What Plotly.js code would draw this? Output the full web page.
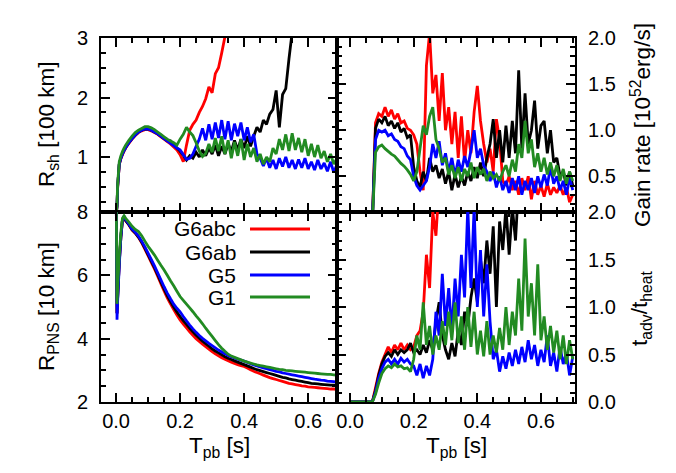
<!DOCTYPE html>
<html>
<head>
<meta charset="utf-8">
<script src="https://cdn.plot.ly/plotly-3.0.1.min.js"></script>
<style>
  html, body { margin: 0; padding: 0; background: #fff; }
  #chart { width: 676px; height: 473px; }
</style>
</head>
<body>
<div id="chart"></div>
<script>
// Post-bounce time grid [s]
const tpb = [
  0.000, 0.003, 0.005, 0.010, 0.015, 0.020, 0.025, 0.030,
  0.04, 0.05, 0.06, 0.07, 0.08, 0.09, 0.10, 0.11, 0.12, 0.13,
  0.14, 0.15, 0.16, 0.17, 0.18, 0.19, 0.20, 0.21, 0.22, 0.23,
  0.24, 0.25, 0.26, 0.27, 0.28, 0.29, 0.30, 0.31, 0.32, 0.33,
  0.34, 0.35, 0.36, 0.37, 0.38, 0.39, 0.40, 0.41, 0.42, 0.43,
  0.44, 0.45, 0.46, 0.47, 0.48, 0.49, 0.50, 0.51, 0.52, 0.53,
  0.54, 0.55, 0.56, 0.57, 0.58, 0.59, 0.60, 0.61, 0.62, 0.63,
  0.64, 0.65, 0.66, 0.67, 0.68, 0.69, 0.70
];

const models = ["G6abc", "G6ab", "G5", "G1"];
const colors = ["#ff0000", "#000000", "#0000ff", "#228b22"];

// ── Shock radius [100 km] ──────────────────────────────────────────────────────
const rshG6abc = [
  0.0, 0.18, 0.49, 0.87, 0.97, 1.04, 1.10, 1.15,
  1.23, 1.30, 1.36, 1.41, 1.44, 1.46, 1.46, 1.44, 1.41, 1.38,
  1.34, 1.30, 1.26, 1.22, 1.17, 1.12, 1.04, 0.92, 1.20, 1.45,
  1.55, 1.62, 1.75, 1.85, 1.98, 2.18, 2.08, 2.40, 2.50, 2.75,
  3.02, 3.40, null, null, null, null, null, null, null, null,
  null, null, null, null, null, null, null, null, null, null,
  null, null, null, null, null, null, null, null, null, null,
  null, null, null, null, null, null, null
];
const rshG6ab = [
  0.0, 0.18, 0.50, 0.88, 0.98, 1.05, 1.11, 1.16,
  1.24, 1.31, 1.37, 1.42, 1.45, 1.47, 1.47, 1.45, 1.42, 1.39,
  1.35, 1.31, 1.27, 1.27, 1.20, 1.15, 1.10, 1.03, 0.95, 1.02,
  0.98, 1.08, 1.00, 1.12, 1.02, 1.15, 1.05, 1.20, 1.02, 1.18,
  1.05, 1.22, 1.10, 1.28, 1.12, 1.30, 1.15, 1.35, 1.18, 1.35,
  1.50, 1.42, 1.62, 1.55, 1.72, 1.80, 2.12, 1.50, 2.05, 2.15,
  2.65, 3.10, 3.50, null, null, null, null, null, null, null,
  null, null, null, null, null, null, null
];
const rshG5 = [
  0.0, 0.18, 0.50, 0.88, 0.98, 1.05, 1.11, 1.16,
  1.24, 1.31, 1.37, 1.42, 1.45, 1.47, 1.47, 1.45, 1.42, 1.39,
  1.35, 1.31, 1.27, 1.23, 1.19, 1.15, 1.12, 1.04, 0.96, 0.98,
  1.05, 1.18, 1.30, 1.48, 1.28, 1.55, 1.30, 1.58, 1.32, 1.62,
  1.30, 1.60, 1.28, 1.56, 1.35, 1.58, 1.28, 1.50, 1.25, 1.38,
  1.05, 0.98, 0.85, 0.98, 0.82, 0.95, 0.80, 0.98, 0.84, 1.00,
  0.82, 0.95, 0.80, 0.96, 0.82, 0.98, 0.80, 0.92, 0.78, 0.95,
  0.80, 0.90, 0.76, 0.92, 0.74, 0.88, 0.78
];
const rshG1 = [
  0.0, 0.20, 0.55, 0.92, 1.02, 1.09, 1.15, 1.20,
  1.28, 1.35, 1.41, 1.45, 1.48, 1.51, 1.51, 1.49, 1.46, 1.42,
  1.38, 1.34, 1.30, 1.27, 1.24, 1.20, 1.30, 1.38, 1.50, 1.42,
  1.36, 1.24, 1.10, 1.01, 1.06, 1.22, 1.08, 1.32, 1.10, 1.35,
  1.05, 1.28, 0.98, 1.25, 1.02, 1.30, 0.95, 1.22, 1.00, 1.15,
  0.92, 1.05, 0.88, 1.00, 0.92, 1.15, 1.05, 1.30, 1.12, 1.38,
  1.10, 1.40, 1.12, 1.32, 1.08, 1.30, 1.02, 1.22, 1.00, 1.20,
  0.98, 1.10, 0.92, 1.05, 0.88, 0.98, 0.90
];

// ── Gain rate [10^52 erg/s] ────────────────────────────────────────────────────
const gainG6abc = [
  0, 0, 0, 0, 0, 0, 0, 0,
  0, 0, 0, 0, 1.08, 1.18, 1.15, 1.25, 1.15, 1.22,
  1.12, 1.18, 1.08, 1.10, 1.02, 1.00, 0.95, 0.85, 0.55, 0.35,
  1.70, 2.05, 1.40, 1.60, 1.10, 1.62, 1.00, 1.25, 0.85, 1.20,
  0.70, 1.15, 0.65, 1.00, 0.75, 1.20, 1.48, 1.10, 0.85, 0.65,
  0.80, 0.55, 1.12, 0.90, 0.45, 0.40, 0.50, 0.35, 0.45, 0.30,
  0.48, 0.35, 0.50, 0.25, 0.45, 0.30, 0.40, 0.28, 0.42, 0.30,
  0.38, 0.32, 0.40, 0.30, 0.38, 0.22, 0.30
];
const gainG6ab = [
  0, 0, 0, 0, 0, 0, 0, 0,
  0, 0, 0, 0, 1.02, 1.12, 1.08, 1.15, 1.05, 1.10,
  1.02, 1.08, 0.98, 1.02, 0.92, 0.95, 0.60, 0.45, 0.38, 0.55,
  0.45, 0.70, 0.55, 0.62, 0.48, 0.58, 0.42, 0.55, 0.35, 0.52,
  0.38, 0.50, 0.40, 0.55, 0.45, 0.60, 0.48, 0.65, 0.50, 0.70,
  0.85, 1.12, 0.70, 1.00, 0.65, 1.05, 0.70, 1.10, 0.75, 1.65,
  0.80, 1.40, 0.85, 1.00, 1.32, 0.80, 1.05, 1.10, 0.75, 1.00,
  0.65, 0.70, 0.50, 0.55, 0.40, 0.55, 0.40
];
const gainG5 = [
  0, 0, 0, 0, 0, 0, 0, 0,
  0, 0, 0, 0, 0.90, 1.00, 0.98, 1.00, 0.94, 0.96,
  0.90, 0.88, 0.82, 0.80, 0.72, 0.68, 0.50, 0.40, 0.35, 0.40,
  0.45, 0.60, 0.85, 0.70, 0.88, 0.62, 0.75, 0.55, 0.70, 0.50,
  0.68, 0.55, 0.72, 0.60, 0.78, 1.00, 0.70, 0.80, 0.62, 0.55,
  0.45, 0.55, 0.38, 0.50, 0.35, 0.45, 0.32, 0.48, 0.35, 0.50,
  0.30, 0.45, 0.35, 0.48, 0.32, 0.50, 0.38, 0.52, 0.40, 0.60,
  0.42, 0.50, 0.35, 0.45, 0.30, 0.48, 0.35
];
const gainG1 = [
  0, 0, 0, 0, 0, 0, 0, 0,
  0, 0, 0, 0, 0.76, 0.82, 0.84, 0.80, 0.77, 0.74,
  0.72, 0.68, 0.64, 0.61, 0.57, 0.52, 0.45, 0.55, 0.80, 1.05,
  0.95, 1.15, 1.25, 0.90, 0.80, 0.65, 0.70, 0.52, 0.62, 0.48,
  0.60, 0.45, 0.58, 0.50, 0.65, 0.48, 0.60, 0.52, 0.58, 0.45,
  0.55, 0.48, 0.52, 0.45, 0.55, 0.62, 0.50, 0.68, 0.55, 0.85,
  0.70, 1.10, 0.75, 0.90, 0.60, 0.75, 0.55, 0.70, 0.52, 0.65,
  0.50, 0.62, 0.45, 0.58, 0.42, 0.55, 0.45
];

// ── PNS radius [10 km] ─────────────────────────────────────────────────────────
const pnsG6abc = [
  9.5, 4.8, 5.3, 6.4, 7.2, 7.75, 7.85, 7.72,
  7.60, 7.43, 7.33, 7.20, 7.03, 6.83, 6.62, 6.41, 6.20, 5.97,
  5.74, 5.51, 5.29, 5.10, 4.92, 4.75, 4.59, 4.46, 4.34, 4.22,
  4.11, 4.00, 3.91, 3.83, 3.75, 3.67, 3.59, 3.52, 3.46, 3.40,
  3.35, 3.30, 3.26, 3.22, 3.18, 3.15, 3.12, 3.07, 3.02, 2.97,
  2.93, 2.89, 2.85, 2.81, 2.77, 2.74, 2.71, 2.68, 2.65, 2.62,
  2.59, 2.57, 2.55, 2.53, 2.51, 2.50, 2.48, 2.47, 2.46, 2.45,
  2.44, 2.43, 2.42, 2.41, 2.41, 2.40, 2.40
];
const pnsG6ab = [
  9.5, 4.8, 5.3, 6.4, 7.2, 7.75, 7.85, 7.73,
  7.60, 7.44, 7.34, 7.21, 7.05, 6.86, 6.65, 6.45, 6.24, 6.02,
  5.79, 5.57, 5.36, 5.17, 5.00, 4.84, 4.70, 4.57, 4.45, 4.33,
  4.22, 4.11, 4.01, 3.92, 3.84, 3.76, 3.68, 3.61, 3.55, 3.49,
  3.43, 3.38, 3.34, 3.30, 3.26, 3.22, 3.18, 3.14, 3.10, 3.06,
  3.02, 2.99, 2.96, 2.93, 2.90, 2.87, 2.84, 2.81, 2.78, 2.76,
  2.73, 2.71, 2.69, 2.67, 2.65, 2.63, 2.61, 2.59, 2.58, 2.57,
  2.56, 2.55, 2.54, 2.53, 2.53, 2.52, 2.52
];
const pnsG5 = [
  9.5, 4.6, 5.2, 6.3, 7.2, 7.75, 7.87, 7.76,
  7.62, 7.46, 7.36, 7.24, 7.08, 6.90, 6.70, 6.50, 6.30, 6.08,
  5.86, 5.64, 5.44, 5.26, 5.09, 4.96, 4.85, 4.70, 4.56, 4.43,
  4.31, 4.20, 4.10, 4.01, 3.93, 3.85, 3.78, 3.71, 3.64, 3.58,
  3.52, 3.47, 3.43, 3.39, 3.35, 3.32, 3.29, 3.25, 3.21, 3.17,
  3.14, 3.11, 3.08, 3.05, 3.02, 3.00, 2.97, 2.95, 2.92, 2.90,
  2.88, 2.86, 2.84, 2.82, 2.80, 2.78, 2.76, 2.74, 2.72, 2.71,
  2.69, 2.68, 2.66, 2.65, 2.64, 2.63, 2.62
];
const pnsG1 = [
  9.5, 5.1, 5.6, 6.6, 7.35, 7.8, 7.88, 7.80,
  7.68, 7.55, 7.45, 7.38, 7.25, 7.08, 6.92, 6.78, 6.64, 6.48,
  6.32, 6.17, 6.00, 5.83, 5.67, 5.50, 5.33, 5.21, 5.09, 4.97,
  4.85, 4.72, 4.60, 4.47, 4.33, 4.20, 4.07, 3.94, 3.81, 3.70,
  3.60, 3.51, 3.45, 3.41, 3.37, 3.33, 3.29, 3.26, 3.23, 3.20,
  3.17, 3.15, 3.13, 3.11, 3.09, 3.07, 3.05, 3.03, 3.02, 3.00,
  2.99, 2.98, 2.97, 2.96, 2.95, 2.94, 2.93, 2.92, 2.91, 2.90,
  2.89, 2.88, 2.87, 2.87, 2.86, 2.85, 2.85
];

// ── Advection / heating time ratio ─────────────────────────────────────────────
const tadvG6abc = [
  0, 0, 0, 0, 0, 0, 0, 0,
  0, 0, 0, 0, 0.15, 0.30, 0.42, 0.50, 0.58, 0.52,
  0.60, 0.55, 0.62, 0.55, 0.60, 0.55, 0.58, 0.70, 0.75, 0.95,
  1.55, 1.20, 2.00, 1.75, 2.30, 2.60, null, null, null, null,
  null, null, null, null, null, null, null, null, null, null,
  null, null, null, null, null, null, null, null, null, null,
  null, null, null, null, null, null, null, null, null, null,
  null, null, null, null, null, null, null
];
const tadvG6ab = [
  0, 0, 0, 0, 0, 0, 0, 0,
  0, 0, 0, 0, 0.12, 0.28, 0.40, 0.48, 0.52, 0.48,
  0.55, 0.50, 0.55, 0.52, 0.55, 0.62, 0.52, 0.55, 0.50, 0.60,
  0.52, 0.65, 0.55, 0.85, 1.05, 0.70, 0.55, 0.45, 0.62, 0.48,
  0.75, 0.60, 0.95, 0.80, 1.10, 1.30, 1.05, 1.50, 1.25, 1.70,
  1.35, 1.85, 1.00, 1.90, 1.60, 2.05, 1.55, 2.05, 1.70, 2.30,
  2.60, null, null, null, null, null, null, null, null, null,
  null, null, null, null, null, null, null
];
const tadvG5 = [
  0, 0, 0, 0, 0, 0, 0, 0,
  0, 0, 0, 0, 0.10, 0.25, 0.35, 0.42, 0.45, 0.40,
  0.45, 0.40, 0.46, 0.42, 0.45, 0.40, 0.38, 0.28, 0.40, 0.25,
  0.38, 0.28, 0.45, 0.95, 0.70, 1.35, 0.80, 1.20, 0.75, 1.30,
  0.90, 1.55, 1.10, 2.05, 1.20, 2.05, 1.00, 1.60, 0.90, 1.45,
  0.85, 0.45, 0.55, 0.32, 0.48, 0.35, 0.52, 0.38, 0.55, 0.40,
  0.58, 0.42, 0.65, 0.45, 0.60, 0.38, 0.55, 0.42, 0.70, 0.38,
  0.52, 0.32, 0.58, 0.40, 0.52, 0.28, 0.48
];
const tadvG1 = [
  0, 0, 0, 0, 0, 0, 0, 0,
  0, 0, 0, 0, 0.08, 0.20, 0.30, 0.35, 0.38, 0.36,
  0.40, 0.37, 0.38, 0.35, 0.36, 0.32, 0.45, 0.70, 0.55, 1.05,
  0.60, 0.80, 0.50, 0.70, 0.55, 0.85, 0.60, 0.95, 0.65, 1.05,
  0.62, 0.90, 0.55, 1.00, 0.58, 0.95, 0.50, 0.75, 0.48, 0.85,
  0.50, 0.70, 0.52, 0.78, 0.55, 1.00, 0.60, 0.95, 0.70, 1.30,
  0.75, 1.72, 0.90, 1.25, 0.70, 1.45, 0.65, 0.90, 0.55, 0.80,
  0.52, 0.75, 0.45, 0.70, 0.40, 0.65, 0.45
];

// ── Build ──────────────────────────────────────────────────────────────────────

const FONT = "Liberation Sans, Arial, sans-serif";
const W = 676, H = 473;
const px = x => x / W;          // pixel -> paper x
const py = y => 1 - y / H;      // pixel -> paper y

function panel(series, xa, ya) {
  return series.map((y, k) => ({
    type: "scatter",
    mode: "lines",
    name: models[k],
    x: tpb,
    y: y,
    xaxis: xa,
    yaxis: ya,
    line: { color: colors[k], width: 2.8, simplify: false },
    showlegend: false,
    hoverinfo: "skip",
  }));
}

// main axes: frame + major ticks + labels
function axis(extra) {
  return Object.assign({
    showline: true, linewidth: 2, linecolor: "#000",
    mirror: "ticks",
    ticks: "inside", ticklen: 9, tickwidth: 2, tickcolor: "#000",
    showgrid: false, zeroline: false, fixedrange: true,
    tickfont: { family: FONT, size: 20, color: "#000" },
  }, extra);
}

// overlay axes that only carry the short minor ticks
function minorAxis(over, anchor, range, dtick, side) {
  return {
    overlaying: over, anchor: anchor, range: range, side: side,
    tickmode: "linear", tick0: 0, dtick: dtick,
    ticks: "inside", ticklen: 5, tickwidth: 2, tickcolor: "#000",
    mirror: "ticks", showline: false, showticklabels: false,
    showgrid: false, zeroline: false, fixedrange: true,
  };
}

const xLeft  = [px(101), px(337)];
const xRight = [px(337), px(575)];
const yTop   = [py(212), py(38)];
const yBot   = [py(402), py(212)];

const rxL = [-0.047, 0.69], rxR = [-0.041, 0.707];
const rRsh = [0.076, 3], rGain = [0.113, 2], rPns = [2, 8], rTadv = [0, 2];

const traces = [
  ...panel([rshG6abc, rshG6ab, rshG5, rshG1], "x", "y"),
  ...panel([gainG6abc, gainG6ab, gainG5, gainG1], "x2", "y2"),
  ...panel([pnsG6abc, pnsG6ab, pnsG5, pnsG1], "x3", "y3"),
  ...panel([tadvG6abc, tadvG6ab, tadvG5, tadvG1], "x4", "y4"),
];
// empty traces so the minor-tick overlay subplots exist
[["x5", "y"], ["x6", "y2"], ["x7", "y3"], ["x8", "y4"],
 ["x", "y5"], ["x2", "y6"], ["x3", "y7"], ["x4", "y8"]].forEach(([xa, ya]) =>
  traces.push({ type: "scatter", mode: "lines", x: [], y: [], xaxis: xa, yaxis: ya,
                showlegend: false, hoverinfo: "skip" }));

const xTicks = { tickmode: "linear", tick0: 0, dtick: 0.2, tickformat: ".1f", ticklabelstandoff: 0 };

const layout = {
  width: W, height: H,
  margin: { l: 0, r: 0, t: 0, b: 0 },
  paper_bgcolor: "#fff", plot_bgcolor: "#fff",
  font: { family: FONT, size: 20, color: "#000" },
  showlegend: false,

  xaxis:  axis({ domain: xLeft,  anchor: "y",  range: rxL, showticklabels: false, ...xTicks }),
  xaxis2: axis({ domain: xRight, anchor: "y2", range: rxR, showticklabels: false, ...xTicks }),
  xaxis3: axis({ domain: xLeft,  anchor: "y3", range: rxL, ...xTicks }),
  xaxis4: axis({ domain: xRight, anchor: "y4", range: rxR, ...xTicks }),

  yaxis:  axis({ domain: yTop, anchor: "x",  range: rRsh, tickmode: "linear", tick0: 0, dtick: 1,
                 ticklabelstandoff: 7 }),
  yaxis2: axis({ domain: yTop, anchor: "x2", range: rGain, tickmode: "linear", tick0: 0, dtick: 0.5,
                 tickformat: ".1f", side: "right", ticklabelstandoff: 7 }),
  yaxis3: axis({ domain: yBot, anchor: "x3", range: rPns, tickmode: "linear", tick0: 0, dtick: 2,
                 ticklabelstandoff: 7 }),
  yaxis4: axis({ domain: yBot, anchor: "x4", range: rTadv, tickmode: "linear", tick0: 0, dtick: 0.5,
                 tickformat: ".1f", side: "right", ticklabelstandoff: 7 }),

  xaxis5: minorAxis("x",  "y",  rxL, 0.05, "bottom"),
  xaxis6: minorAxis("x2", "y2", rxR, 0.05, "bottom"),
  xaxis7: minorAxis("x3", "y3", rxL, 0.05, "bottom"),
  xaxis8: minorAxis("x4", "y4", rxR, 0.05, "bottom"),
  yaxis5: minorAxis("y",  "x",  rRsh, 0.25, "left"),
  yaxis6: minorAxis("y2", "x2", rGain, 0.1, "right"),
  yaxis7: minorAxis("y3", "x3", rPns, 0.5, "left"),
  yaxis8: minorAxis("y4", "x4", rTadv, 0.1, "right"),

  annotations: [],
  shapes: [],
};

// Axis titles
const titles = [
  { text: "R<sub>sh</sub> [100 km]", x: 48, y: 125, angle: -90 },
  { text: "R<sub>PNS</sub> [10 km]", x: 48, y: 307, angle: -90 },
  { text: "Gain rate [10<sup>52</sup>erg/s]", x: 641, y: 125, angle: -90 },
  { text: "t<sub>adv</sub>/t<sub>heat</sub>", x: 641, y: 309, angle: -90 },
  { text: "T<sub>pb</sub> [s]", x: 219, y: 447, angle: 0 },
  { text: "T<sub>pb</sub> [s]", x: 456, y: 447, angle: 0 },
];
titles.forEach(t => layout.annotations.push({
  text: t.text, xref: "paper", yref: "paper", x: px(t.x), y: py(t.y),
  xanchor: "center", yanchor: "middle", textangle: t.angle, showarrow: false,
  font: { family: FONT, size: 22.5, color: "#000" },
}));

// Key inside the PNS panel: label on the left, line sample on the right
const keyRows = [229, 252, 275, 297];
models.forEach((m, k) => {
  layout.annotations.push({
    text: m, xref: "paper", yref: "paper", x: px(238), y: py(keyRows[k]),
    xanchor: "right", yanchor: "middle", showarrow: false,
    font: { family: FONT, size: 21, color: "#000" },
  });
  layout.shapes.push({
    type: "line", xref: "paper", yref: "paper",
    x0: px(250), x1: px(310), y0: py(keyRows[k]), y1: py(keyRows[k]),
    line: { color: colors[k], width: 3 },
  });
});

Plotly.newPlot("chart", traces, layout, { displayModeBar: false, staticPlot: true });
</script>
</body>
</html>
